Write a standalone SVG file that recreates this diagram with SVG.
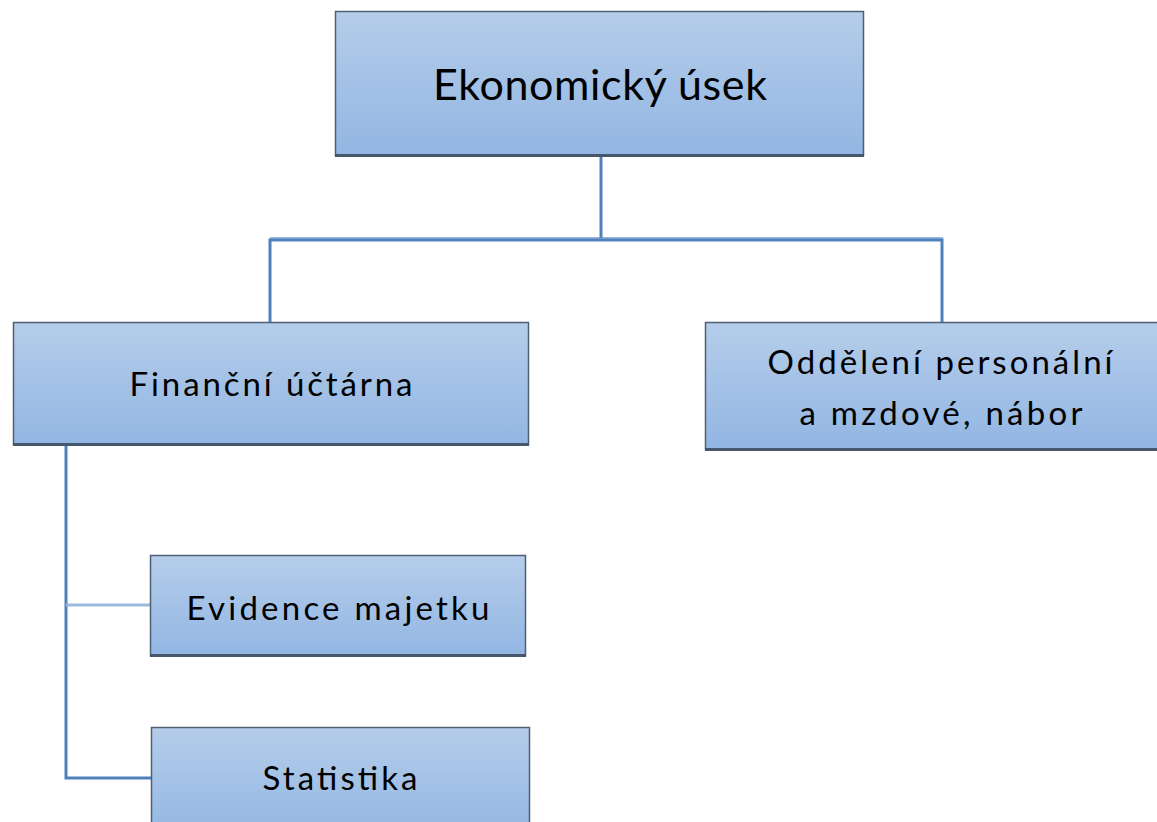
<svg xmlns="http://www.w3.org/2000/svg" width="1157" height="822" viewBox="0 0 1157 822">
<style>
.box{fill:url(#g);stroke:#4f5f73;stroke-width:1.5}
.sh{fill:#46566b}
.t{font-family:Lato,"Open Sans",sans-serif;fill:#000;text-anchor:middle}
.c{fill:none;stroke:#4f81bd;stroke-width:3}
.cl{fill:none;stroke:#9ab9dc;stroke-width:3}
</style>
<defs>
<linearGradient id="g" x1="0" y1="0" x2="0" y2="1">
<stop offset="0" stop-color="#b5cdea"/>
<stop offset="1" stop-color="#92b6e3"/>
</linearGradient>
</defs>
<rect width="1157" height="822" fill="#fff"/>
<g id="connectors">
<path class="cl" d="M270 238.5H943"/>
<path class="c" d="M601 157V238"/>
<path class="c" d="M270 322V240H942V322"/>
<path class="c" d="M66 446V778H152"/>
<path class="cl" d="M66 605H150"/>
</g>
<g id="n1">
<rect class="box" x="335.5" y="11.5" width="528" height="144"/>
<rect class="sh" x="335" y="154" width="529" height="3"/>
<text class="t" x="600" y="100" font-size="43" textLength="334" lengthAdjust="spacing">Ekonomický úsek</text>
</g>
<g id="n2">
<rect class="box" x="13.5" y="322.5" width="515" height="122"/>
<rect class="sh" x="13" y="443" width="516" height="3"/>
<text class="t" x="271" y="396" font-size="33" textLength="283" lengthAdjust="spacing">Finanční účtárna</text>
</g>
<g id="n3">
<rect class="box" x="705.5" y="322.5" width="460" height="127"/>
<rect class="sh" x="705" y="448" width="460" height="3"/>
<text class="t" x="940" y="374" font-size="33" textLength="345" lengthAdjust="spacing">Oddělení personální</text>
<text class="t" x="941" y="425" font-size="33" textLength="283" lengthAdjust="spacing">a mzdové, nábor</text>
</g>
<g id="n4">
<rect class="box" x="150.5" y="555.5" width="375" height="100"/>
<rect class="sh" x="150" y="654" width="376" height="3"/>
<text class="t" x="338" y="620" font-size="33" textLength="303" lengthAdjust="spacing">Evidence majetku</text>
</g>
<g id="n5">
<rect class="box" x="151.5" y="727.5" width="378" height="110"/>
<text class="t" x="340" y="790" font-size="33" textLength="155" lengthAdjust="spacing">Statistika</text>
</g>
</svg>
